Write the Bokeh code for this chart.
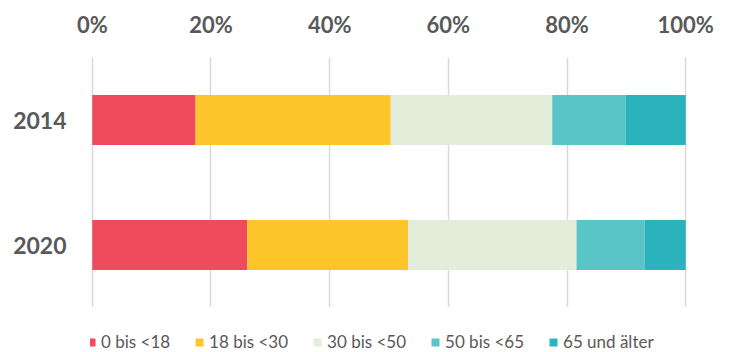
from bokeh.plotting import figure
from bokeh.layouts import column
from bokeh.models import FactorRange, Legend, FixedTicker, CustomJSTickFormatter
from bokeh.embed import file_html
from bokeh.resources import INLINE

# Age-group shares per year (percent)
years = ["2020", "2014"]
groups = ["0 bis <18", "18 bis <30", "30 bis <50", "50 bis <65", "65 und älter"]
share_0_18 = [26.1, 17.4]
share_18_30 = [27.1, 32.9]
share_30_50 = [28.4, 27.2]
share_50_65 = [11.5, 12.4]
share_65 = [6.9, 10.1]
x_ticks = [0, 20, 40, 60, 80, 100]

colors = ["#EF4B5D", "#FEC62A", "#E2EEDA", "#5AC5C7", "#2AB3BD"]
keys = ["g0", "g1", "g2", "g3", "g4"]
grey = "#595959"

data = dict(year=years, g0=share_0_18, g1=share_18_30, g2=share_30_50,
            g3=share_50_65, g4=share_65)

# Main chart: stacked horizontal bars, percent axis on top
p = figure(width=731, height=307, output_backend="svg", toolbar_location=None,
           y_range=FactorRange(factors=years, range_padding=0),
           x_range=(-0.3, 100.3), x_axis_location="above",
           min_border_left=90, min_border_right=44, min_border_top=57,
           min_border_bottom=0)

p.hbar_stack(keys, y="year", height=0.4, color=colors, line_color=None,
             source=data)

p.outline_line_color = None
p.ygrid.grid_line_color = None
p.xgrid.grid_line_color = "#D9D9D9"
p.xgrid.grid_line_width = 1.5
p.xgrid.ticker = FixedTicker(ticks=x_ticks)

ax = p.xaxis[0]
ax.ticker = FixedTicker(ticks=x_ticks)
ax.formatter = CustomJSTickFormatter(code="return tick + '%';")
ax.axis_line_color = None
ax.major_tick_line_color = None
ax.minor_tick_line_color = None
ax.major_label_text_font = "Lato"
ax.major_label_text_font_style = "bold"
ax.major_label_text_font_size = "22px"
ax.major_label_text_color = grey
ax.major_label_standoff = 14

ay = p.yaxis[0]
ay.axis_line_color = None
ay.major_tick_line_color = None
ay.minor_tick_line_color = None
ay.major_label_text_font = "Lato"
ay.major_label_text_font_style = "bold"
ay.major_label_text_font_size = "23px"
ay.major_label_text_color = grey
ay.major_label_standoff = 18

# Legend strip underneath; swatch renderers sit outside the strip's view
lg = figure(width=731, height=45, output_backend="svg", toolbar_location=None,
            x_range=(0, 1), y_range=(0, 1), min_border=0,
            min_border_left=0, min_border_right=0)
lg.axis.visible = False
lg.grid.visible = False
lg.outline_line_color = None
swatches = [lg.hbar(y=[-5], left=[0], right=[1], height=1, color=c,
                    line_color=None) for c in colors]

legend = Legend(items=[(g, [r]) for g, r in zip(groups, swatches)],
                orientation="horizontal", location=(-4, 0),
                label_text_font="Lato", label_text_font_size="17px",
                label_text_color=grey, glyph_width=10, glyph_height=10,
                label_standoff=5, spacing=24, padding=0, margin=0,
                border_line_color=None, background_fill_alpha=0)
lg.add_layout(legend)

layout = column(p, lg, spacing=0)
open("out.html", "w").write(file_html(layout, INLINE))
